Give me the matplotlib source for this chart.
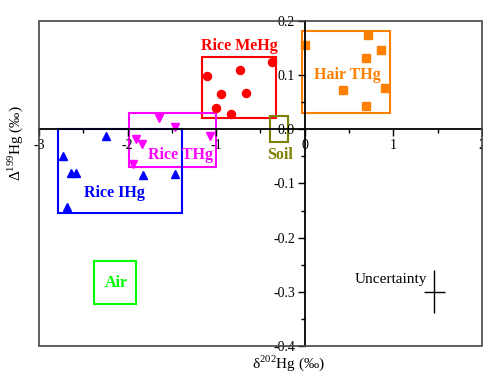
import matplotlib
matplotlib.use("Agg")
import matplotlib.pyplot as plt
from matplotlib.patches import Rectangle
from matplotlib.ticker import MultipleLocator, FormatStrFormatter

matplotlib.rcParams['font.family'] = ['Liberation Serif', 'DejaVu Serif']
matplotlib.rcParams['mathtext.fontset'] = 'custom'
matplotlib.rcParams['mathtext.rm'] = 'Liberation Serif'
matplotlib.rcParams['axes.unicode_minus'] = False

# 数据点 (δ202Hg, Δ199Hg)
meHg_x = [-0.37, -1.10, -0.73, -0.94, -0.66, -1.00, -0.83]
meHg_y = [0.124, 0.099, 0.110, 0.066, 0.067, 0.039, 0.029]

riceTHg_x = [-1.64, -1.47, -1.91, -1.84, -1.07, -1.94]
riceTHg_y = [0.021, 0.004, -0.017, -0.028, -0.012, -0.064]

iHg_x = [-2.24, -2.73, -2.64, -2.58, -1.83, -1.46, -2.68]
iHg_y = [-0.012, -0.049, -0.080, -0.080, -0.084, -0.083, -0.143]

hair_x = [0.00, 0.71, 0.86, 0.69, 0.43, 0.91, 0.69]
hair_y = [0.156, 0.175, 0.146, 0.131, 0.073, 0.077, 0.043]

# 范围框: 名称, x0, x1, y0, y1, 颜色, 标签位置
box_names = ["Rice MeHg", "Rice THg", "Rice IHg", "Hair THg", "Soil", "Air"]
box_x0 = [-1.16, -1.98, -2.79, -0.03, -0.39, -2.38]
box_x1 = [-0.33, -1.00, -1.39, 0.96, -0.19, -1.90]
box_y0 = [0.020, -0.070, -0.155, 0.031, -0.024, -0.323]
box_y1 = [0.134, 0.031, 0.000, 0.181, 0.024, -0.243]
box_colors = ["#ff0000", "#ff00ff", "#0000ff", "#ff8000", "#808000", "#00ff00"]
label_x = [-0.74, -1.40, -2.15, 0.48, -0.275, -2.13]
label_y = [0.153, -0.047, -0.118, 0.101, -0.048, -0.284]

# 不确定度
unc_x, unc_y = 1.46, -0.30
unc_xerr, unc_yerr = 0.12, 0.04

fig = plt.figure(figsize=(4.83, 3.73), dpi=100)
ax = fig.add_axes([0.0807, 0.0724, 0.9172, 0.8713])
ax.set_xlim(-3, 2)
ax.set_ylim(-0.4, 0.2)

# 坐标轴放在 0 处
ax.spines['left'].set_position(('data', 0))
ax.spines['bottom'].set_position(('data', 0))
ax.spines['right'].set_visible(False)
ax.spines['top'].set_visible(False)
for s in ['left', 'bottom']:
    ax.spines[s].set_linewidth(1.3)
ax.add_patch(Rectangle((0, 0), 1, 1, transform=ax.transAxes, fill=False,
                       edgecolor="#444444", linewidth=1.2, clip_on=False, zorder=5))

ax.xaxis.set_major_locator(MultipleLocator(1))
ax.xaxis.set_minor_locator(MultipleLocator(0.5))
ax.yaxis.set_major_locator(MultipleLocator(0.1))
ax.yaxis.set_minor_locator(MultipleLocator(0.05))
ax.yaxis.set_major_formatter(FormatStrFormatter('%.1f'))
ax.xaxis.set_major_formatter(FormatStrFormatter('%d'))
ax.tick_params(which='major', direction='out', length=5, width=1, labelsize=10, pad=2)
ax.tick_params(which='minor', direction='out', length=3, width=1)

for name, x0, x1, y0, y1, c, lx, ly in zip(box_names, box_x0, box_x1, box_y0, box_y1,
                                           box_colors, label_x, label_y):
    ax.add_patch(Rectangle((x0, y0), x1 - x0, y1 - y0, fill=False, edgecolor=c, linewidth=1.5))
    ax.text(lx, ly, name, color=c, fontsize=11.5, fontweight='bold', ha='center', va='center')

ax.plot(meHg_x, meHg_y, 'o', color="#ff0000", markersize=5.8, linestyle='none')
ax.plot(riceTHg_x, riceTHg_y, 'v', color="#ff00ff", markersize=6.3, linestyle='none')
ax.plot(iHg_x, iHg_y, '^', color="#0000ff", markersize=6.3, linestyle='none')
ax.plot(hair_x, hair_y, 's', color="#ff8000", markersize=5.5, linestyle='none')

ax.errorbar(unc_x, unc_y, xerr=unc_xerr, yerr=unc_yerr, fmt='none', ecolor='black',
            elinewidth=1, capsize=0)
ax.text(0.97, -0.278, "Uncertainty", fontsize=11, ha='center', va='center')

fig.text(0.598, 0.026, "δ$^{202}$Hg (‰)", fontsize=11, ha='center', va='center')
fig.text(0.031, 0.617, "Δ$^{199}$Hg (‰)", fontsize=11, ha='center', va='center',
         rotation=90)

fig.savefig("out.png", dpi=100)
